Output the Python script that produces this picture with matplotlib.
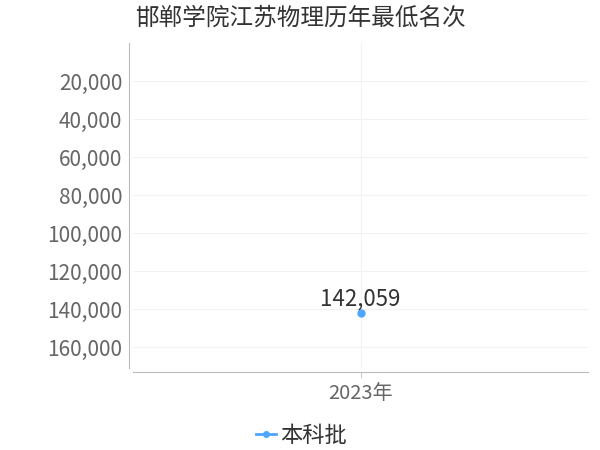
import matplotlib
matplotlib.use('Agg')
import matplotlib.pyplot as plt
from matplotlib.ticker import FuncFormatter

plt.rcParams['font.family'] = ['Noto Sans CJK SC', 'DejaVu Sans']

title = '邯郸学院江苏物理历年最低名次'
years = ['2023年']
ranks = [142059]
series_name = '本科批'
yticks = [20000, 40000, 60000, 80000, 100000, 120000, 140000, 160000]

fig = plt.figure(figsize=(6, 4.5), dpi=100)
ax = fig.add_axes([0.222, 0.182, 0.758, 0.722])

xs = list(range(len(years)))
ax.plot(xs, ranks, '-o', color='#4da6ff', markersize=5, linewidth=2, label=series_name)
for x, v in zip(xs, ranks):
    ax.annotate(f'{v:,}', (x, v), xytext=(0, 2), textcoords='offset points',
                ha='center', va='bottom', fontsize=16, color='#333333')

ax.set_xlim(-0.5, 0.5)
ax.set_ylim(171000, 0)
ax.set_xticks(xs)
ax.set_xticklabels(years)
ax.set_yticks(yticks)
ax.yaxis.set_major_formatter(FuncFormatter(lambda v, p: f'{int(v):,}'))
ax.tick_params(axis='y', labelsize=15, colors='#666666', length=0, pad=5)
ax.tick_params(axis='x', labelsize=14.5, colors='#666666', length=4, width=0.8, pad=4)
ax.tick_params(axis='both', color='#cccccc')
ax.grid(True, color='#f2f2f2', linewidth=0.8)

for s in ['top', 'right']:
    ax.spines[s].set_visible(False)
ax.spines['left'].set_color('#bbbbbb')
ax.spines['bottom'].set_color('#bbbbbb')
ax.spines['left'].set_position(('outward', 3))
ax.spines['bottom'].set_position(('outward', 3))

fig.suptitle(title, x=0.5, y=0.985, fontsize=17, color='#333333', ha='center')
ax.legend(loc='upper center', bbox_to_anchor=(0.37, -0.11), frameon=False,
          fontsize=16, handlelength=0.9, handletextpad=0.2, markerscale=0.8,
          labelcolor='#333333')

fig.savefig('out.png', dpi=100)
